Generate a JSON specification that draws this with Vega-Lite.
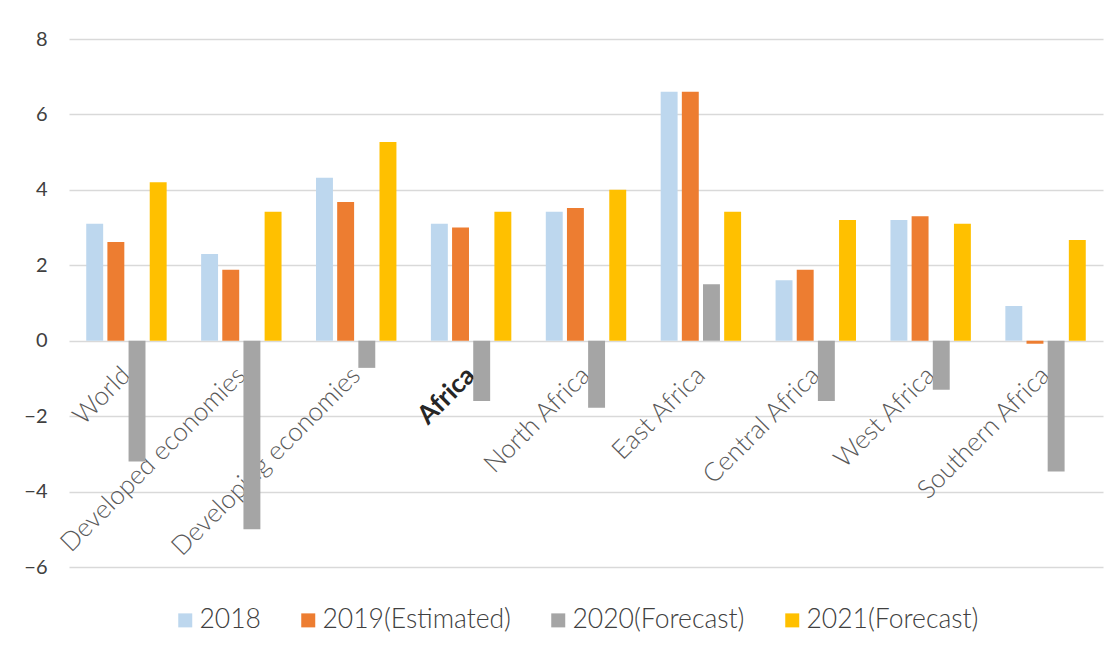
{
  "$schema": "https://vega.github.io/schema/vega-lite/v6.json",
  "width": 1034,
  "height": 528,
  "autosize": {"type": "none"},
  "padding": {"left": 69, "top": 39, "right": 15, "bottom": 87},
  "background": "white",
  "data": {
    "values": [
      {"region": "World", "series": "2018", "value": 3.1},
      {"region": "World", "series": "2019(Estimated)", "value": 2.62},
      {"region": "World", "series": "2020(Forecast)", "value": -3.2},
      {"region": "World", "series": "2021(Forecast)", "value": 4.2},
      {"region": "Developed economies", "series": "2018", "value": 2.3},
      {"region": "Developed economies", "series": "2019(Estimated)", "value": 1.88},
      {"region": "Developed economies", "series": "2020(Forecast)", "value": -5.0},
      {"region": "Developed economies", "series": "2021(Forecast)", "value": 3.42},
      {"region": "Developing economies", "series": "2018", "value": 4.32},
      {"region": "Developing economies", "series": "2019(Estimated)", "value": 3.68},
      {"region": "Developing economies", "series": "2020(Forecast)", "value": -0.72},
      {"region": "Developing economies", "series": "2021(Forecast)", "value": 5.27},
      {"region": "Africa", "series": "2018", "value": 3.1},
      {"region": "Africa", "series": "2019(Estimated)", "value": 3.0},
      {"region": "Africa", "series": "2020(Forecast)", "value": -1.6},
      {"region": "Africa", "series": "2021(Forecast)", "value": 3.42},
      {"region": "North Africa", "series": "2018", "value": 3.42},
      {"region": "North Africa", "series": "2019(Estimated)", "value": 3.52},
      {"region": "North Africa", "series": "2020(Forecast)", "value": -1.78},
      {"region": "North Africa", "series": "2021(Forecast)", "value": 4.0},
      {"region": "East Africa", "series": "2018", "value": 6.6},
      {"region": "East Africa", "series": "2019(Estimated)", "value": 6.6},
      {"region": "East Africa", "series": "2020(Forecast)", "value": 1.5},
      {"region": "East Africa", "series": "2021(Forecast)", "value": 3.42},
      {"region": "Central Africa", "series": "2018", "value": 1.6},
      {"region": "Central Africa", "series": "2019(Estimated)", "value": 1.88},
      {"region": "Central Africa", "series": "2020(Forecast)", "value": -1.6},
      {"region": "Central Africa", "series": "2021(Forecast)", "value": 3.2},
      {"region": "West Africa", "series": "2018", "value": 3.2},
      {"region": "West Africa", "series": "2019(Estimated)", "value": 3.3},
      {"region": "West Africa", "series": "2020(Forecast)", "value": -1.3},
      {"region": "West Africa", "series": "2021(Forecast)", "value": 3.1},
      {"region": "Southern Africa", "series": "2018", "value": 0.92},
      {"region": "Southern Africa", "series": "2019(Estimated)", "value": -0.08},
      {"region": "Southern Africa", "series": "2020(Forecast)", "value": -3.47},
      {"region": "Southern Africa", "series": "2021(Forecast)", "value": 2.67}
    ]
  },
  "mark": {"type": "bar"},
  "encoding": {
    "x": {
      "field": "region",
      "type": "nominal",
      "sort": null,
      "title": null,
      "scale": {"paddingInner": 0.3, "paddingOuter": 0.15},
      "axis": {
        "offset": -226,
        "domain": false,
        "ticks": false,
        "labelAngle": -45,
        "labelAlign": "right",
        "labelBaseline": "middle",
        "labelPadding": 30,
        "labelFont": "Lato",
        "labelFontSize": 26,
        "labelColor": {"condition": {"test": "datum.value === 'Africa'", "value": "#262626"}, "value": "#595959"},
        "labelFontWeight": {"condition": {"test": "datum.value === 'Africa'", "value": "bold"}, "value": 300},
        "labelOverlap": false,
        "labelLimit": 400
      }
    },
    "xOffset": {"field": "series", "type": "nominal", "scale": {"paddingInner": 0.2}},
    "y": {
      "field": "value",
      "type": "quantitative",
      "title": null,
      "scale": {"domain": [-6, 8], "nice": false},
      "axis": {
        "values": [-6, -4, -2, 0, 2, 4, 6, 8],
        "domain": false,
        "ticks": false,
        "labelPadding": 22,
        "labelFont": "Lato",
        "labelFontSize": 20,
        "labelColor": "#404040",
        "gridColor": "#d9d9d9",
        "gridWidth": 1.5
      }
    },
    "color": {
      "field": "series",
      "type": "nominal",
      "title": null,
      "scale": {
        "domain": ["2018", "2019(Estimated)", "2020(Forecast)", "2021(Forecast)"],
        "range": ["#BDD7EE", "#ED7D31", "#A5A5A5", "#FFC000"]
      },
      "legend": {
        "orient": "none",
        "direction": "horizontal",
        "legendX": 103,
        "legendY": 568,
        "symbolType": "square",
        "symbolSize": 196,
        "symbolStrokeWidth": 0,
        "labelFont": "Lato",
        "labelFontSize": 26.5,
        "labelFontWeight": 300,
        "labelColor": "#404040",
        "labelLimit": 400,
        "columnPadding": 34,
        "labelOffset": 1
      }
    }
  },
  "config": {"view": {"stroke": null}}
}
